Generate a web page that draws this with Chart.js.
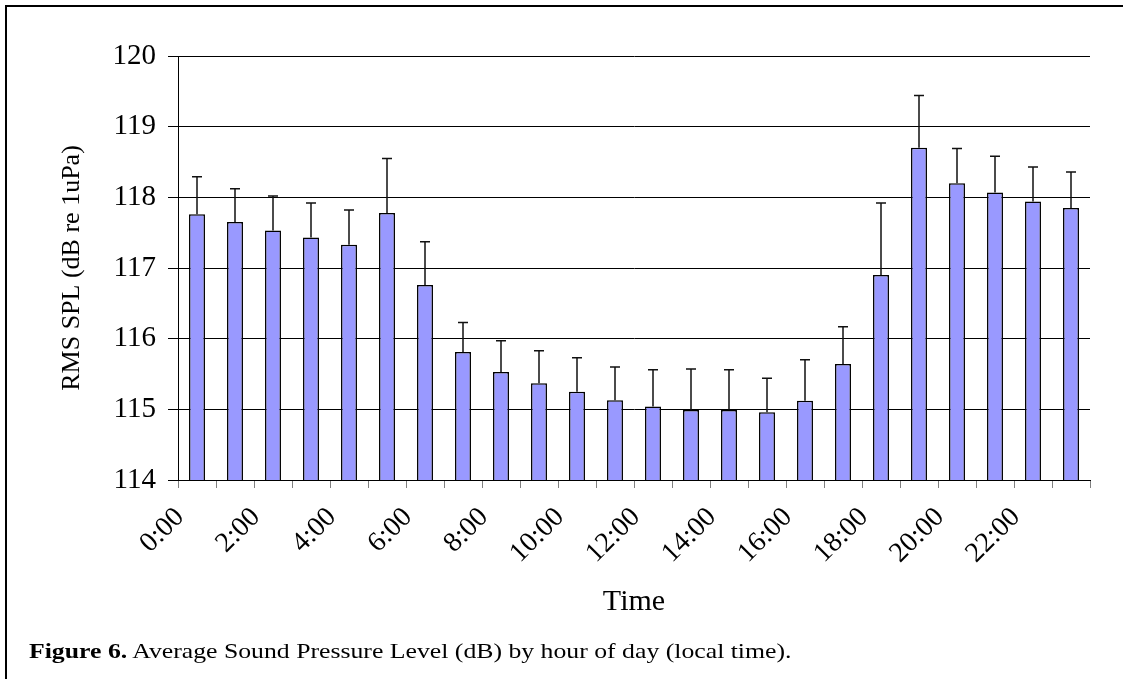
<!DOCTYPE html>
<html>
<head>
<meta charset="utf-8">
<script src="https://cdn.jsdelivr.net/npm/chart.js@4"></script>
<style>
  html, body { margin: 0; padding: 0; background: #fff; overflow: hidden; }
  #wrap { position: relative; width: 1123px; height: 679px; }
  #frame { position: absolute; left: 5px; top: 5px; width: 1300px; height: 900px;
           border-left: 2px solid #000; border-top: 2px solid #000; }
  #myChart { position: absolute; left: 0; top: 0; }
  #caption { position: absolute; left: 29px; top: 640px; font-family: "Liberation Serif", serif;
             font-size: 22px; line-height: 22px; color: #000; white-space: nowrap;
             transform: scaleX(1.17); transform-origin: 0 0; }
</style>
</head>
<body>
<div id="wrap">
  <div id="frame"></div>
  <canvas id="myChart" width="1123" height="679"></canvas>
  <div id="caption"><b>Figure 6.</b> Average Sound Pressure Level (dB) by hour of day (local time).</div>
</div>
<script>
const hours = ["0:00","1:00","2:00","3:00","4:00","5:00","6:00","7:00","8:00","9:00","10:00","11:00",
               "12:00","13:00","14:00","15:00","16:00","17:00","18:00","19:00","20:00","21:00","22:00","23:00"];
// mean RMS SPL per hour
const meanSPL = [117.76, 117.65, 117.53, 117.43, 117.33, 117.78, 116.76, 115.81, 115.53, 115.37, 115.25, 115.13,
                 115.04, 114.99, 114.99, 114.96, 115.12, 115.64, 116.90, 118.70, 118.20, 118.07, 117.94, 117.85];
// upper error bar (std dev)
const sdSPL = [0.53, 0.47, 0.49, 0.49, 0.49, 0.77, 0.61, 0.42, 0.44, 0.46, 0.48, 0.47,
               0.52, 0.58, 0.57, 0.48, 0.58, 0.53, 1.02, 0.74, 0.49, 0.51, 0.49, 0.51];
const yTicks = [114, 115, 116, 117, 118, 119, 120];

const serif = "'Liberation Serif', 'Times New Roman', serif";
const ctx = document.getElementById("myChart").getContext("2d");

const errorBars = {
    id: "errorBars",
    afterDatasetsDraw(chart) {
        const meta = chart.getDatasetMeta(0);
        const yScale = chart.scales.y;
        const c = chart.ctx;
        c.save();
        c.strokeStyle = "#111";
        c.lineWidth = 1.5;
        meta.data.forEach((bar, i) => {
            const top = yScale.getPixelForValue(meanSPL[i] + sdSPL[i]);
            c.beginPath();
            c.moveTo(bar.x, bar.y);
            c.lineTo(bar.x, top);
            c.moveTo(bar.x - 5, top);
            c.lineTo(bar.x + 5, top);
            c.stroke();
        });
        c.restore();
    }
};

const myChart = new Chart(ctx, {
    type: "bar",
    data: {
        labels: hours,
        datasets: [{
            label: "RMS SPL",
            data: meanSPL,
            backgroundColor: "#9999ff",
            borderColor: "#000",
            borderWidth: 1.5,
            borderSkipped: false,
            barPercentage: 0.42,
            categoryPercentage: 1.0
        }]
    },
    options: {
        responsive: false,
        animation: false,
        layout: { padding: { left: 57, top: 56, right: 33, bottom: 59 } },
        plugins: { legend: { display: false }, tooltip: { enabled: false } },
        scales: {
            x: {
                afterFit(scale) { scale.height = 140; },
                grid: { drawOnChartArea: false, drawTicks: true, tickLength: 8, color: "#808080", offset: true },
                border: { color: "#000", width: 1 },
                ticks: {
                    autoSkip: false,
                    minRotation: 45,
                    maxRotation: 45,
                    padding: 13,
                    labelOffset: -17,
                    color: "#000",
                    font: { family: serif, size: 28 },
                    callback(v, i) { return i % 2 === 0 ? this.getLabelForValue(v) : ""; }
                },
                title: { display: true, text: "Time", color: "#000", padding: 0,
                         font: { family: serif, size: 30 } }
            },
            y: {
                min: 114,
                max: 120,
                afterFit(scale) { scale.width = 121; },
                afterBuildTicks(scale) { scale.ticks = yTicks.map(v => ({ value: v })); },
                grid: { color: "#000", lineWidth: 1, tickLength: 10 },
                border: { color: "#000", width: 1 },
                ticks: { color: "#000", padding: 12, font: { family: serif, size: 29 } },
                title: { display: true, text: "RMS SPL (dB re 1uPa)", color: "#000", padding: 0,
                         font: { family: serif, size: 26 } }
            }
        }
    },
    plugins: [errorBars]
});
</script>
</body>
</html>
